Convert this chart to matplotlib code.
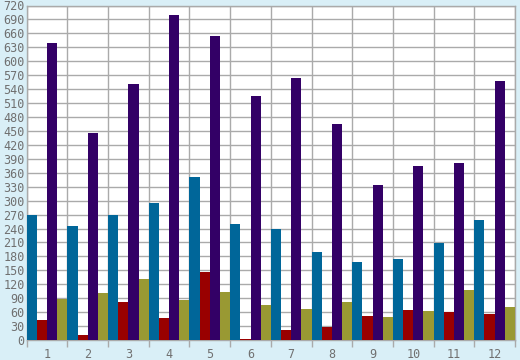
import numpy as np
import matplotlib
matplotlib.use("Agg")
import matplotlib.pyplot as plt

months = ['1', '2', '3', '4', '5', '6', '7', '8', '9', '10', '11', '12']
blue = [270, 245, 270, 294, 350, 249, 240, 189, 168, 174, 208, 258]
red = [43, 11, 82, 47, 146, 3, 21, 28, 52, 64, 60, 56]
purple = [640, 445, 552, 700, 655, 526, 563, 466, 333, 374, 380, 557]
olive = [88, 101, 131, 86, 103, 75, 67, 82, 49, 62, 107, 71]

series = [blue, red, purple, olive]
colors = ['#006699', '#990000', '#330066', '#999933']

bg = '#d9eff7'
grid_c = '#aaaaaa'
txt_c = '#707070'

fig = plt.figure(figsize=(5.2, 3.6), dpi=100, facecolor=bg)
ax = fig.add_axes([26.7 / 520, 20 / 360, (515 - 26.7) / 520, 334.5 / 360])
ax.set_facecolor('white')

x = np.arange(len(months))
w = 0.25
for i, (vals, c) in enumerate(zip(series, colors)):
    ax.bar(x - 0.5 + w * (i + 0.5), vals, width=w, color=c, zorder=3)

ax.set_xlim(-0.5, len(months) - 0.5)
ax.set_ylim(0, 720)
ax.set_yticks(np.arange(0, 721, 30))

# gridlines at group boundaries, labels at centres
ax.set_xticks(np.arange(-0.5, len(months)), minor=False)
ax.set_xticklabels([''] * (len(months) + 1))
ax.set_xticks(x, minor=True)
ax.set_xticklabels(months, minor=True)
ax.tick_params(axis='x', which='major', length=5, color=grid_c, width=1)
ax.tick_params(axis='x', which='minor', length=0, pad=6)
ax.tick_params(axis='y', length=0, pad=1.5)
for lab in ax.get_xticklabels(minor=True) + ax.get_yticklabels():
    lab.set_fontfamily('DejaVu Sans Mono')
    lab.set_fontsize(8.5)
    lab.set_color(txt_c)

ax.grid(True, which='major', color=grid_c, linewidth=1, zorder=0)
for s in ax.spines.values():
    s.set_color(grid_c)
    s.set_linewidth(1)

fig.savefig('out.png', dpi=100, facecolor=bg)
